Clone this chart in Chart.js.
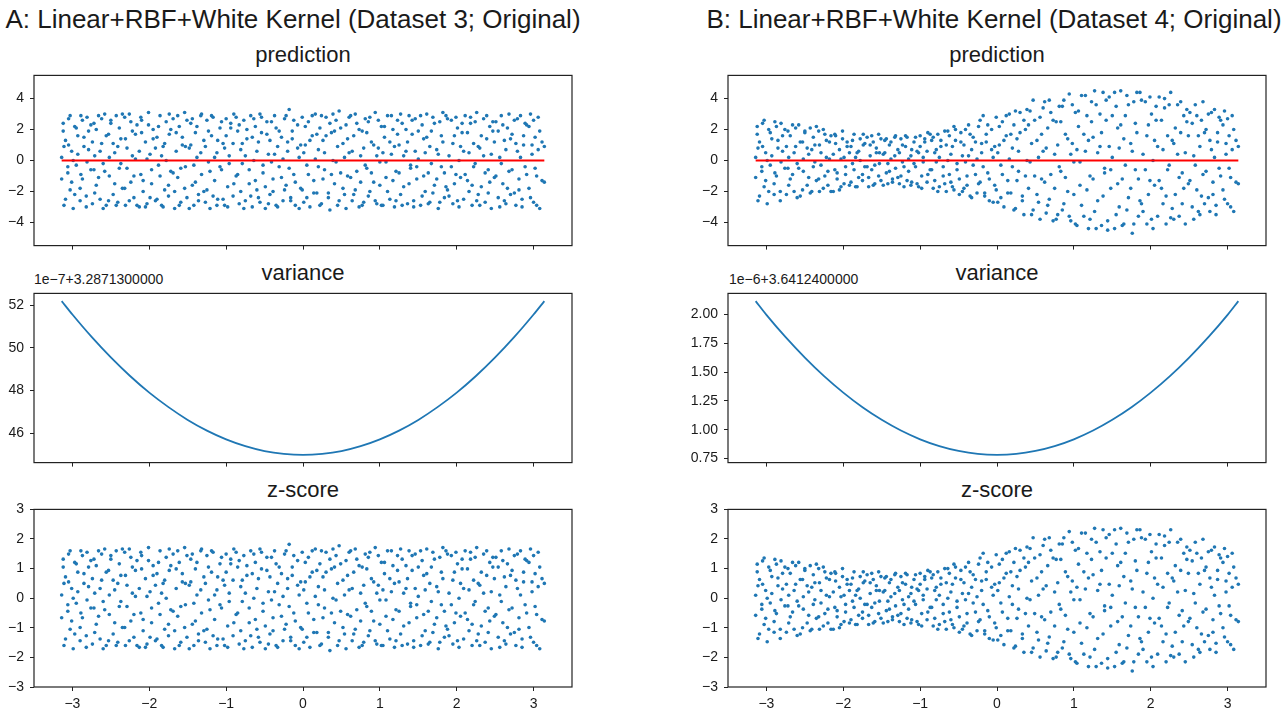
<!DOCTYPE html>
<html><head><meta charset="utf-8">
<script src="https://cdn.jsdelivr.net/npm/chart.js@4.4.1/dist/chart.umd.min.js"></script>
<style>
html,body{margin:0;padding:0;background:#fff;}
#wrap{position:relative;width:1288px;height:713px;overflow:hidden;font-family:"Liberation Sans",Arial,sans-serif;color:#1a1a1a;}
canvas{position:absolute;}
.t{position:absolute;white-space:nowrap;line-height:1;}
</style></head><body><div id="wrap">
<div class="t" style="left:0;width:586px;text-align:center;top:6px;font-size:26px">A: Linear+RBF+White Kernel (Dataset 3; Original)</div>
<div class="t" style="left:697px;width:594px;text-align:center;top:6px;font-size:26px">B: Linear+RBF+White Kernel (Dataset 4; Original)</div>
<div class="t" style="left:34px;width:538px;text-align:center;top:44px;font-size:22px">prediction</div>
<div class="t" style="left:728px;width:538px;text-align:center;top:44px;font-size:22px">prediction</div>
<div class="t" style="left:34px;width:538px;text-align:center;top:262px;font-size:22px">variance</div>
<div class="t" style="left:728px;width:538px;text-align:center;top:262px;font-size:22px">variance</div>
<div class="t" style="left:34px;width:538px;text-align:center;top:479px;font-size:22px">z-score</div>
<div class="t" style="left:728px;width:538px;text-align:center;top:479px;font-size:22px">z-score</div>
<div class="t" style="left:34px;top:272px;font-size:14px">1e−7+3.2871300000</div>
<div class="t" style="left:729px;top:272px;font-size:14px">1e−6+3.6412400000</div>
</div>
<script>
// ---------- data ----------
const xTicks = [-3,-2,-1,0,1,2,3];
const predTicks = [-4,-2,0,2,4];
const zTicks = [-3,-2,-1,0,1,2,3];
const varTicksA = [46,48,50,52];
const varTicksB = [0.75,1.00,1.25,1.50,1.75,2.00];

const xs = [
-3.14,-3.12,-3.11,-3.09,-3.06,-3.05,-3.03,-3.01,-2.99,-2.97,
-2.95,-2.93,-2.90,-2.89,-2.87,-2.85,-2.82,-2.81,-2.79,-2.76,
-2.74,-2.72,-2.71,-2.69,-2.66,-2.64,-2.62,-2.60,-2.58,-2.56,
-2.53,-2.52,-2.50,-2.47,-2.45,-2.43,-2.41,-2.39,-2.37,-2.35,
-2.32,-2.31,-2.29,-2.26,-2.24,-2.22,-2.20,-2.18,-2.16,-2.13,
-2.11,-2.10,-2.08,-2.05,-2.03,-2.01,-1.99,-1.97,-1.95,-1.92,
-1.90,-1.88,-1.86,-1.84,-1.82,-1.80,-1.78,-1.75,-1.74,-1.72,
-1.69,-1.67,-1.65,-1.63,-1.61,-1.59,-1.57,-1.54,-1.53,-1.51,
-1.48,-1.46,-1.44,-1.42,-1.40,-1.38,-1.36,-1.33,-1.32,-1.29,
-1.27,-1.25,-1.23,-1.21,-1.19,-1.17,-1.15,-1.12,-1.11,-1.08,
-1.06,-1.04,-1.02,-1.00,-0.98,-0.96,-0.94,-0.91,-0.90,-0.87,
-0.85,-0.83,-0.81,-0.79,-0.77,-0.75,-0.73,-0.70,-0.68,-0.66,
-0.64,-0.62,-0.60,-0.58,-0.56,-0.54,-0.52,-0.49,-0.47,-0.45,
-0.43,-0.41,-0.39,-0.37,-0.35,-0.33,-0.31,-0.28,-0.26,-0.24,
-0.22,-0.20,-0.18,-0.16,-0.14,-0.12,-0.10,-0.07,-0.05,-0.03,
-0.01,0.01,0.03,0.05,0.07,0.09,0.12,0.14,0.16,0.18,
0.20,0.22,0.24,0.26,0.28,0.30,0.33,0.35,0.37,0.39,
0.41,0.43,0.45,0.47,0.49,0.52,0.54,0.56,0.58,0.60,
0.62,0.64,0.66,0.68,0.70,0.73,0.75,0.77,0.79,0.81,
0.83,0.85,0.87,0.89,0.92,0.94,0.96,0.98,1.00,1.02,
1.04,1.06,1.08,1.10,1.13,1.15,1.17,1.19,1.21,1.23,
1.25,1.27,1.29,1.31,1.34,1.36,1.38,1.40,1.42,1.44,
1.46,1.48,1.50,1.53,1.55,1.57,1.59,1.61,1.63,1.65,
1.67,1.69,1.71,1.74,1.76,1.78,1.80,1.82,1.84,1.86,
1.88,1.90,1.93,1.95,1.97,1.99,2.01,2.03,2.05,2.07,
2.09,2.11,2.14,2.16,2.18,2.20,2.22,2.24,2.26,2.28,
2.30,2.32,2.35,2.37,2.39,2.41,2.43,2.45,2.47,2.49,
2.51,2.54,2.56,2.58,2.60,2.62,2.64,2.66,2.68,2.70,
2.72,2.75,2.77,2.79,2.81,2.83,2.85,2.87,2.89,2.91,
2.94,2.96,2.98,3.00,3.02,3.04,3.06,3.08,3.11,3.14];

// prediction, dataset 3 (two passes of reading the same cloud)
const predA = [
0.2,2.4,-2.9,1.3,-0.8,2.7,-1.9,0.6,-3.1,2.2,
-0.3,1.6,-2.6,2.9,-1.2,0.9,-2.3,2.8,1.9,-0.6,
-2.8,2.4,0.3,-1.6,2.9,-2.5,1.1,-0.2,3.0,-2.9,
1.7,-1.0,2.6,-2.2,0.5,2.9,-2.7,-0.5,1.4,-1.8,
2.8,-2.9,0.8,3.0,-1.4,1.9,-2.4,0.1,2.3,-3.0,
-0.9,2.6,-2.0,1.2,-2.8,3.1,0.4,-1.5,2.0,-2.6,
1.5,-0.3,2.9,-2.9,0.9,-1.9,2.5,-2.3,1.7,-0.7,
2.7,-3.1,0.6,-1.1,2.2,-2.7,1.0,3.1,-0.4,-2.4,
0.8,2.4,-1.6,-2.9,1.8,0.2,-2.2,2.9,-0.9,1.3,
-2.7,2.6,-0.1,-3.1,1.6,2.8,-1.3,0.5,-2.5,2.1,
-0.6,1.1,-2.9,2.7,-1.7,0.3,2.4,-2.3,3.0,-1.0,
1.9,-2.8,0.7,-0.2,2.6,-2.6,1.4,-1.5,2.9,-3.0,
0.0,2.2,-1.9,1.2,-2.7,2.8,-0.8,-3.1,1.7,0.4,
-2.2,2.5,-1.2,2.9,-2.9,0.9,-0.4,1.5,-2.6,2.7,
-1.6,0.6,3.3,-2.4,1.9,-0.9,-2.9,2.3,0.2,-1.8,
2.8,-2.7,1.0,-0.3,2.5,-3.0,1.6,-1.3,3.0,-2.1,
0.7,2.1,-2.8,1.3,-0.6,2.8,-2.4,-3.2,1.8,0.0,
-1.5,2.6,-2.9,3.2,-0.8,1.1,-2.2,2.3,-1.0,0.5,
2.9,-2.6,1.6,-1.9,2.4,-3.0,0.3,1.9,-2.7,2.7,
-0.5,-2.3,2.8,1.2,-1.4,3.1,-2.8,0.8,-0.1,2.2,
-2.9,1.5,-1.1,2.9,-2.5,0.4,2.0,-3.0,-0.7,2.6,
1.0,-2.2,2.4,-1.7,0.6,-2.8,2.9,-0.3,1.7,-2.6,
2.7,-1.2,0.1,-2.9,2.3,1.4,-2.0,3.0,-0.8,-2.7,
1.9,2.8,-1.6,0.7,-3.1,2.5,-0.4,1.2,-2.4,2.9,
-1.9,0.3,2.6,-2.8,1.6,-0.9,2.1,-3.0,0.9,1.8,
-2.5,2.9,-1.3,0.5,2.4,-2.9,1.1,-0.2,3.1,-2.2,
0.8,-1.7,2.7,-2.7,1.4,-0.6,2.2,-3.1,1.9,-1.1,
2.5,-2.4,0.2,2.9,-1.5,1.3,-2.8,2.1,-0.7,-2.2,
1.7,2.6,-2.9,0.6,-1.2,2.9,-2.5,1.0,-0.4,2.3,
-1.8,3.0,0.4,-2.7,1.5,-1.0,2.8,-3.1,1.2,-1.4];
const predA2 = [
-1.2,1.9,0.9,-2.5,-0.4,1.0,2.9,-1.4,0.0,-2.2,
2.1,0.4,-1.8,-0.9,2.6,1.5,-3.0,-0.1,0.7,2.3,
1.2,-0.6,-2.1,2.0,-1.1,0.6,2.7,-3.1,-0.7,1.6,
-2.6,0.2,2.4,1.1,-1.5,-2.9,0.9,2.1,-0.2,3.0,
-1.8,1.4,-0.5,-2.6,2.5,0.3,-1.0,1.7,-2.9,0.6,
2.8,1.8,-1.3,-3.0,0.1,2.3,-2.4,-0.6,1.4,0.8,
-2.5,2.2,-1.0,0.3,-3.0,1.1,0.0,-1.6,3.0,2.0,
-0.8,-2.0,1.8,2.9,-2.9,-0.5,1.5,-1.8,0.9,2.6,
-3.1,1.0,2.7,-0.3,-1.4,2.2,-2.6,0.5,3.0,-2.0,
0.9,-1.9,1.9,-0.7,2.9,-2.3,0.2,-2.9,1.3,-0.4,
2.5,-2.5,0.8,1.6,-3.0,-0.2,2.1,1.1,-1.5,2.8,
-0.9,2.3,-2.0,1.1,-3.1,0.3,2.0,-0.6,-2.3,1.5,
2.7,-1.3,0.6,-2.4,3.0,1.8,-0.3,-1.7,2.5,-2.8,
1.3,-0.1,-2.0,0.4,2.1,-3.0,1.9,-1.1,0.1,-1.9,
2.9,1.2,-0.5,-2.6,1.4,2.6,-1.4,0.8,-3.1,1.0,
-1.9,0.5,2.2,-2.4,-0.9,1.3,2.9,-2.1,0.1,1.7,
-0.4,-2.9,2.9,-1.2,0.5,1.6,-2.1,2.4,-0.9,3.0,
1.9,-0.1,0.9,-2.6,2.1,-1.8,0.2,-3.1,1.4,2.8,
-1.1,0.6,-2.2,3.0,-0.7,2.0,-1.4,-2.9,0.8,-0.3,
1.8,2.5,-2.0,-0.8,1.0,-2.6,0.3,2.6,-1.6,-2.9,
0.5,2.2,-0.1,-2.0,1.2,2.9,-1.3,0.9,-2.6,1.7,
-0.8,3.0,-2.9,0.3,2.0,1.2,-1.5,-0.5,2.6,-3.0,
0.6,-0.4,1.9,2.9,-2.3,-1.0,0.5,1.5,-2.8,0.9,
-0.2,-2.1,2.4,-1.2,0.4,-2.7,1.6,3.1,-0.8,-1.7,
2.7,-2.3,-0.4,1.1,-1.5,2.8,-2.6,0.0,-1.1,2.4,
0.6,-0.9,1.8,-2.0,2.8,-1.6,-0.4,2.5,-2.6,0.9,
-2.9,1.6,0.3,-0.8,2.9,-2.1,-1.4,0.4,2.5,1.2,
-1.0,1.9,-3.0,-0.2,2.3,-2.6,0.7,-1.8,3.0,1.4,
-0.6,-2.1,1.1,2.7,-1.9,0.2,-3.0,1.6,2.4,-0.9,
2.2,-2.4,1.0,2.6,-0.5,-2.9,0.7,1.9,-1.3,0.9];

// z-score, dataset 3
const zA = [
0.11,1.32,-1.60,0.72,-0.44,1.49,-1.05,0.33,-1.71,1.21,
-0.17,0.88,-1.44,1.60,-0.66,0.50,-1.27,1.55,1.05,-0.33,
-1.55,1.32,0.17,-0.88,1.60,-1.38,0.61,-0.11,1.66,-1.60,
0.94,-0.55,1.44,-1.21,0.28,1.60,-1.49,-0.28,0.77,-0.99,
1.55,-1.60,0.44,1.66,-0.77,1.05,-1.32,0.06,1.27,-1.66,
-0.50,1.44,-1.10,0.66,-1.55,1.71,0.22,-0.83,1.10,-1.44,
0.83,-0.17,1.60,-1.60,0.50,-1.05,1.38,-1.27,0.94,-0.39,
1.49,-1.71,0.33,-0.61,1.21,-1.49,0.55,1.71,-0.22,-1.32,
0.44,1.32,-0.88,-1.60,0.99,0.11,-1.21,1.60,-0.50,0.72,
-1.49,1.44,-0.06,-1.71,0.88,1.55,-0.72,0.28,-1.38,1.16,
-0.33,0.61,-1.60,1.49,-0.94,0.17,1.32,-1.27,1.66,-0.55,
1.05,-1.55,0.39,-0.11,1.44,-1.44,0.77,-0.83,1.60,-1.66,
0.00,1.21,-1.05,0.66,-1.49,1.55,-0.44,-1.71,0.94,0.22,
-1.21,1.38,-0.66,1.60,-1.60,0.50,-0.22,0.83,-1.44,1.49,
-0.88,0.33,1.82,-1.32,1.05,-0.50,-1.60,1.27,0.11,-0.99,
1.55,-1.49,0.55,-0.17,1.38,-1.66,0.88,-0.72,1.66,-1.16,
0.39,1.16,-1.55,0.72,-0.33,1.55,-1.32,-1.77,0.99,0.00,
-0.83,1.44,-1.60,1.77,-0.44,0.61,-1.21,1.27,-0.55,0.28,
1.60,-1.44,0.88,-1.05,1.32,-1.66,0.17,1.05,-1.49,1.49,
-0.28,-1.27,1.55,0.66,-0.77,1.71,-1.55,0.44,-0.06,1.21,
-1.60,0.83,-0.61,1.60,-1.38,0.22,1.10,-1.66,-0.39,1.44,
0.55,-1.21,1.32,-0.94,0.33,-1.55,1.60,-0.17,0.94,-1.44,
1.49,-0.66,0.06,-1.60,1.27,0.77,-1.10,1.66,-0.44,-1.49,
1.05,1.55,-0.88,0.39,-1.71,1.38,-0.22,0.66,-1.32,1.60,
-1.05,0.17,1.44,-1.55,0.88,-0.50,1.16,-1.66,0.50,0.99,
-1.38,1.60,-0.72,0.28,1.32,-1.60,0.61,-0.11,1.71,-1.21,
0.44,-0.94,1.49,-1.49,0.77,-0.33,1.21,-1.71,1.05,-0.61,
1.38,-1.32,0.11,1.60,-0.83,0.72,-1.55,1.16,-0.39,-1.21,
0.94,1.44,-1.60,0.33,-0.66,1.60,-1.38,0.55,-0.22,1.27,
-0.99,1.66,0.22,-1.49,0.83,-0.55,1.55,-1.71,0.66,-0.77];
const zA2 = [
-0.66,1.05,0.50,-1.38,-0.22,0.55,1.60,-0.77,0.00,-1.21,
1.16,0.22,-0.99,-0.50,1.44,0.83,-1.66,-0.06,0.39,1.27,
0.66,-0.33,-1.16,1.10,-0.61,0.33,1.49,-1.71,-0.39,0.88,
-1.44,0.11,1.32,0.61,-0.83,-1.60,0.50,1.16,-0.11,1.66,
-0.99,0.77,-0.28,-1.44,1.38,0.17,-0.55,0.94,-1.60,0.33,
1.55,0.99,-0.72,-1.66,0.06,1.27,-1.32,-0.33,0.77,0.44,
-1.38,1.21,-0.55,0.17,-1.66,0.61,0.00,-0.88,1.66,1.10,
-0.44,-1.10,0.99,1.60,-1.60,-0.28,0.83,-0.99,0.50,1.44,
-1.71,0.55,1.49,-0.17,-0.77,1.21,-1.44,0.28,1.66,-1.10,
0.50,-1.05,1.05,-0.39,1.60,-1.27,0.11,-1.60,0.72,-0.22,
1.38,-1.38,0.44,0.88,-1.66,-0.11,1.16,0.61,-0.83,1.55,
-0.50,1.27,-1.10,0.61,-1.71,0.17,1.10,-0.33,-1.27,0.83,
1.49,-0.72,0.33,-1.32,1.66,0.99,-0.17,-0.94,1.38,-1.55,
0.72,-0.06,-1.10,0.22,1.16,-1.66,1.05,-0.61,0.06,-1.05,
1.60,0.66,-0.28,-1.44,0.77,1.44,-0.77,0.44,-1.71,0.55,
-1.05,0.28,1.21,-1.32,-0.50,0.72,1.60,-1.16,0.06,0.94,
-0.22,-1.60,1.60,-0.66,0.28,0.88,-1.16,1.32,-0.50,1.66,
1.05,-0.06,0.50,-1.44,1.16,-0.99,0.11,-1.71,0.77,1.55,
-0.61,0.33,-1.21,1.66,-0.39,1.10,-0.77,-1.60,0.44,-0.17,
0.99,1.38,-1.10,-0.44,0.55,-1.44,0.17,1.44,-0.88,-1.60,
0.28,1.21,-0.06,-1.10,0.66,1.60,-0.72,0.50,-1.44,0.94,
-0.44,1.66,-1.60,0.17,1.10,0.66,-0.83,-0.28,1.44,-1.66,
0.33,-0.22,1.05,1.60,-1.27,-0.55,0.28,0.83,-1.55,0.50,
-0.11,-1.16,1.32,-0.66,0.22,-1.49,0.88,1.71,-0.44,-0.94,
1.49,-1.27,-0.22,0.61,-0.83,1.55,-1.44,0.00,-0.61,1.32,
0.33,-0.50,0.99,-1.10,1.55,-0.88,-0.22,1.38,-1.44,0.50,
-1.60,0.88,0.17,-0.44,1.60,-1.16,-0.77,0.22,1.38,0.66,
-0.55,1.05,-1.66,-0.11,1.27,-1.44,0.39,-0.99,1.66,0.77,
-0.33,-1.16,0.61,1.49,-1.05,0.11,-1.66,0.88,1.32,-0.50,
1.21,-1.32,0.55,1.44,-0.28,-1.60,0.39,1.05,-0.72,0.50];

// prediction, dataset 4
const predB = [
0.2,2.2,-2.6,1.2,-0.7,2.4,-1.7,0.5,-2.8,2.0,
-0.3,1.4,-2.2,2.5,-1.0,0.8,-2.0,2.4,1.6,-0.5,
-2.2,1.9,0.2,-1.2,2.3,-2.0,0.9,-0.2,2.3,-2.3,
1.2,-0.7,1.9,-1.6,0.4,2.1,-2.0,-0.4,1.0,-1.3,
1.9,-2.0,0.5,2.0,-1.0,1.3,-1.6,0.1,1.6,-2.0,
-0.6,1.6,-1.2,0.7,-1.7,1.9,0.2,-0.9,1.2,-1.6,
0.9,-0.2,1.7,-1.7,0.5,-1.1,1.4,-1.3,1.0,-0.4,
1.5,-1.7,0.3,-0.6,1.2,-1.5,0.5,1.7,-0.2,-1.3,
0.4,1.3,-0.8,-1.5,1.0,0.1,-1.2,1.5,-0.5,0.7,
-1.5,1.4,-0.1,-1.7,0.9,1.5,-0.7,0.3,-1.4,1.2,
-0.4,0.6,-1.7,1.6,-1.0,0.2,1.4,-1.4,1.8,-0.6,
1.3,-1.8,0.5,-0.1,1.7,-1.7,0.9,-1.0,1.9,-2.0,
0.0,1.6,-1.4,0.9,-1.9,2.0,-0.6,-2.2,1.2,0.3,
-1.8,2.0,-1.0,2.3,-2.3,0.7,-0.3,1.2,-2.1,2.2,
-1.4,0.5,2.9,-2.1,1.7,-0.8,-2.6,2.0,0.2,-1.6,
2.8,-2.7,1.0,-0.3,2.5,-3.0,1.6,-1.3,3.0,-2.1,
0.8,2.3,-3.1,1.4,-0.7,3.1,-2.6,-3.5,2.0,0.0,
-1.8,3.2,-3.5,3.9,-1.0,1.3,-2.7,2.8,-1.2,0.6,
3.8,-3.4,2.1,-2.5,3.1,-3.9,0.4,2.5,-3.5,3.5,
-0.7,-3.2,3.9,1.7,-2.0,4.3,-3.9,1.1,-0.1,3.1,
-4.2,2.2,-1.6,4.2,-3.6,0.6,2.9,-4.4,-1.0,3.8,
1.5,-3.3,3.6,-2.6,0.9,-4.2,4.4,-0.5,2.6,-3.9,
4.1,-1.8,0.2,-4.4,3.5,2.1,-3.0,4.5,-1.2,-4.1,
2.9,4.2,-2.4,1.1,-4.7,3.8,-0.6,1.8,-3.6,4.4,
-2.8,0.4,3.8,-4.1,2.3,-1.3,3.0,-4.4,1.3,2.6,
-3.6,4.1,-1.8,0.7,3.4,-4.1,1.6,-0.3,4.4,-3.1,
1.1,-2.2,3.6,-3.6,1.8,-0.8,2.9,-4.1,2.5,-1.5,
3.1,-3.0,0.3,3.6,-1.9,1.6,-3.5,2.6,-0.9,-2.8,
2.0,3.0,-3.3,0.7,-1.4,3.3,-2.9,1.2,-0.5,2.6,
-1.9,3.2,0.4,-2.8,1.6,-1.1,2.9,-3.3,1.3,-1.5];
const predB2 = [
-1.1,1.7,0.8,-2.3,-0.4,0.9,2.6,-1.3,0.0,-2.0,
1.8,0.3,-1.5,-0.8,2.2,1.3,-2.6,-0.1,0.6,2.0,
0.9,-0.5,-1.6,1.6,-0.9,0.5,2.1,-2.4,-0.5,1.2,
-1.9,0.1,1.8,0.8,-1.1,-2.1,0.7,1.5,-0.1,2.2,
-1.2,1.0,-0.3,-1.8,1.7,0.2,-0.7,1.2,-2.0,0.4,
1.7,1.1,-0.8,-1.9,0.1,1.4,-1.5,-0.4,0.9,0.5,
-1.4,1.3,-0.6,0.2,-1.7,0.6,0.0,-0.9,1.7,1.1,
-0.4,-1.1,1.0,1.6,-1.6,-0.3,0.8,-1.0,0.5,1.4,
-1.6,0.5,1.4,-0.2,-0.7,1.2,-1.4,0.3,1.6,-1.1,
0.5,-1.0,1.0,-0.4,1.6,-1.3,0.1,-1.6,0.7,-0.2,
1.5,-1.5,0.5,0.9,-1.8,-0.1,1.2,0.6,-0.9,1.7,
-0.6,1.5,-1.3,0.7,-2.0,0.2,1.3,-0.4,-1.5,1.0,
1.9,-0.9,0.4,-1.7,2.2,1.3,-0.2,-1.2,1.8,-2.0,
1.0,-0.1,-1.6,0.3,1.7,-2.4,1.5,-0.9,0.1,-1.5,
2.6,1.1,-0.4,-2.3,1.2,2.3,-1.2,0.7,-2.7,0.9,
-1.9,0.5,2.2,-2.4,-0.9,1.3,2.9,-2.1,0.1,1.7,
-0.4,-3.2,3.2,-1.3,0.6,1.8,-2.3,2.6,-1.0,3.3,
2.3,-0.1,1.1,-3.2,2.6,-2.2,0.2,-3.8,1.7,3.4,
-1.4,0.8,-2.9,3.9,-0.9,2.6,-1.8,-3.8,1.0,-0.4,
2.5,3.5,-2.8,-1.1,1.4,-3.6,0.4,3.6,-2.2,-4.1,
0.7,3.2,-0.1,-2.9,1.7,4.2,-1.9,1.3,-3.8,2.5,
-1.2,4.5,-4.4,0.5,3.0,1.8,-2.3,-0.8,3.9,-4.5,
0.9,-0.6,2.9,4.4,-3.5,-1.5,0.8,2.3,-4.2,1.4,
-0.3,-3.2,3.6,-1.8,0.6,-4.1,2.4,4.4,-1.2,-2.6,
3.9,-3.3,-0.6,1.6,-2.2,4.1,-3.8,0.0,-1.6,3.5,
0.9,-1.3,2.6,-2.8,4.0,-2.3,-0.6,3.6,-3.7,1.3,
-3.8,2.1,0.4,-1.1,3.8,-2.8,-1.8,0.5,3.3,1.6,
-1.3,2.4,-3.8,-0.3,2.9,-3.3,0.9,-2.3,3.8,1.8,
-0.7,-2.4,1.3,3.1,-2.2,0.2,-3.5,1.8,2.8,-1.0,
2.3,-2.5,1.1,2.7,-0.5,-3.0,0.7,2.0,-1.4,0.9];

// z-score, dataset 4
const zB = [
0.10,1.15,-1.36,0.63,-0.37,1.26,-0.89,0.26,-1.47,1.05,
-0.16,0.73,-1.15,1.31,-0.52,0.42,-1.05,1.26,0.84,-0.26,
-1.15,1.00,0.10,-0.63,1.21,-1.05,0.47,-0.10,1.21,-1.21,
0.63,-0.37,1.00,-0.84,0.21,1.10,-1.05,-0.21,0.52,-0.68,
1.00,-1.05,0.26,1.05,-0.52,0.68,-0.84,0.05,0.84,-1.05,
-0.31,0.84,-0.63,0.37,-0.89,1.00,0.10,-0.47,0.63,-0.84,
0.47,-0.10,0.89,-0.89,0.26,-0.58,0.73,-0.68,0.52,-0.21,
0.79,-0.89,0.16,-0.31,0.63,-0.79,0.26,0.89,-0.10,-0.68,
0.21,0.68,-0.42,-0.79,0.52,0.05,-0.63,0.79,-0.26,0.37,
-0.79,0.73,-0.05,-0.89,0.47,0.79,-0.37,0.16,-0.73,0.63,
-0.21,0.31,-0.89,0.84,-0.52,0.10,0.73,-0.73,0.94,-0.31,
0.68,-0.94,0.26,-0.05,0.89,-0.89,0.47,-0.52,1.00,-1.05,
0.00,0.84,-0.73,0.47,-1.00,1.05,-0.31,-1.15,0.63,0.16,
-0.94,1.05,-0.52,1.21,-1.21,0.37,-0.16,0.63,-1.10,1.15,
-0.73,0.26,1.52,-1.10,0.89,-0.42,-1.36,1.05,0.10,-0.84,
1.47,-1.41,0.52,-0.16,1.31,-1.57,0.84,-0.68,1.57,-1.10,
0.42,1.21,-1.62,0.73,-0.37,1.62,-1.36,-1.83,1.05,0.00,
-0.94,1.68,-1.83,2.04,-0.52,0.68,-1.41,1.47,-0.63,0.31,
1.99,-1.78,1.10,-1.31,1.62,-2.04,0.21,1.31,-1.83,1.83,
-0.37,-1.68,2.04,0.89,-1.05,2.25,-2.04,0.58,-0.05,1.62,
-2.20,1.15,-0.84,2.20,-1.89,0.31,1.52,-2.31,-0.52,1.99,
0.79,-1.73,1.89,-1.36,0.47,-2.20,2.31,-0.26,1.36,-2.04,
2.15,-0.94,0.10,-2.31,1.83,1.10,-1.57,2.36,-0.63,-2.15,
1.52,2.20,-1.26,0.58,-2.46,1.99,-0.31,0.94,-1.89,2.31,
-1.47,0.21,1.99,-2.15,1.21,-0.68,1.57,-2.31,0.68,1.36,
-1.89,2.15,-0.94,0.37,1.78,-2.15,0.84,-0.16,2.31,-1.62,
0.58,-1.15,1.89,-1.89,0.94,-0.42,1.52,-2.15,1.31,-0.79,
1.62,-1.57,0.16,1.89,-1.00,0.84,-1.83,1.36,-0.47,-1.47,
1.05,1.57,-1.73,0.37,-0.73,1.73,-1.52,0.63,-0.26,1.36,
-1.00,1.68,0.21,-1.47,0.84,-0.58,1.52,-1.73,0.68,-0.79];
const zB2 = [
-0.58,0.89,0.42,-1.21,-0.21,0.47,1.36,-0.68,0.00,-1.05,
0.94,0.16,-0.79,-0.42,1.15,0.68,-1.36,-0.05,0.31,1.05,
0.47,-0.26,-0.84,0.84,-0.47,0.26,1.10,-1.26,-0.26,0.63,
-1.00,0.05,0.94,0.42,-0.58,-1.10,0.37,0.79,-0.05,1.15,
-0.63,0.52,-0.16,-0.94,0.89,0.10,-0.37,0.63,-1.05,0.21,
0.89,0.58,-0.42,-1.00,0.05,0.73,-0.79,-0.21,0.47,0.26,
-0.73,0.68,-0.31,0.10,-0.89,0.31,0.00,-0.47,0.89,0.58,
-0.21,-0.58,0.52,0.84,-0.84,-0.16,0.42,-0.52,0.26,0.73,
-0.84,0.26,0.73,-0.10,-0.37,0.63,-0.73,0.16,0.84,-0.58,
0.26,-0.52,0.52,-0.21,0.84,-0.68,0.05,-0.84,0.37,-0.10,
0.79,-0.79,0.26,0.47,-0.94,-0.05,0.63,0.31,-0.47,0.89,
-0.31,0.79,-0.68,0.37,-1.05,0.10,0.68,-0.21,-0.79,0.52,
1.00,-0.47,0.21,-0.89,1.15,0.68,-0.10,-0.63,0.94,-1.05,
0.52,-0.05,-0.84,0.16,0.89,-1.26,0.79,-0.47,0.05,-0.79,
1.36,0.58,-0.21,-1.21,0.63,1.21,-0.63,0.37,-1.41,0.47,
-1.00,0.26,1.15,-1.26,-0.47,0.68,1.52,-1.10,0.05,0.89,
-0.21,-1.68,1.68,-0.68,0.31,0.94,-1.21,1.36,-0.52,1.73,
1.21,-0.05,0.58,-1.68,1.36,-1.15,0.10,-1.99,0.89,1.78,
-0.73,0.42,-1.52,2.04,-0.47,1.36,-0.94,-1.99,0.52,-0.21,
1.31,1.83,-1.47,-0.58,0.73,-1.89,0.21,1.89,-1.15,-2.15,
0.37,1.68,-0.05,-1.52,0.89,2.20,-1.00,0.68,-1.99,1.31,
-0.63,2.36,-2.31,0.26,1.57,0.94,-1.21,-0.42,2.04,-2.36,
0.47,-0.31,1.52,2.31,-1.83,-0.79,0.42,1.21,-2.20,0.73,
-0.16,-1.68,1.89,-0.94,0.31,-2.15,1.26,2.31,-0.63,-1.36,
2.04,-1.73,-0.31,0.84,-1.15,2.15,-1.99,0.00,-0.84,1.83,
0.47,-0.68,1.36,-1.47,2.10,-1.21,-0.31,1.89,-1.94,0.68,
-1.99,1.10,0.21,-0.58,1.99,-1.47,-0.94,0.26,1.73,0.84,
-0.68,1.26,-1.99,-0.16,1.52,-1.73,0.47,-1.21,1.99,0.94,
-0.37,-1.26,0.68,1.62,-1.15,0.10,-1.83,0.94,1.47,-0.52,
1.21,-1.31,0.58,1.41,-0.26,-1.57,0.37,1.05,-0.73,0.47];

const zeroX = [-3.14, 3.14];
const zeroY = [0, 0];

const varX = [-3.14,-3,-2.75,-2.5,-2.25,-2,-1.75,-1.5,-1.25,-1,-0.75,-0.5,-0.25,0,0.25,0.5,0.75,1,1.25,1.5,1.75,2,2.25,2.5,2.75,3,3.14];
const varA = [52.19,51.56,50.51,49.55,48.68,47.9,47.22,46.62,46.12,45.71,45.39,45.16,45.03,44.98,45.03,45.16,45.39,45.71,46.12,46.62,47.22,47.9,48.68,49.55,50.51,51.56,52.19];
const varB = [2.116,1.997,1.803,1.626,1.465,1.322,1.195,1.086,0.993,0.917,0.858,0.816,0.790,0.782,0.790,0.816,0.858,0.917,0.993,1.086,1.195,1.322,1.465,1.626,1.803,1.997,2.116];

// ---------- rendering ----------
const BLUE = '#1f77b4';
const FONT = {family: '"Liberation Sans", Arial, sans-serif', size: 14};
const TXT = '#1a1a1a';
const PADT = 10, PADR = 12;
const fmtInt = v => (v < 0 ? '\u2212' + Math.abs(v) : String(v));

const framePlugin = {
  id: 'frame',
  afterDraw(chart) {
    const a = chart.chartArea, c = chart.ctx;
    c.save(); c.strokeStyle = '#222'; c.lineWidth = 1.2;
    c.strokeRect(a.left, a.top, a.right - a.left, a.bottom - a.top);
    c.restore();
  }
};

function pts(xv, yv) { return xv.map((x, i) => ({x: x, y: yv[i]})); }

function panel(o) {
  const cv = document.createElement('canvas');
  const W = o.yW + o.boxW + PADR, H = PADT + o.boxH + o.xH;
  cv.width = W; cv.height = H;
  cv.style.left = (o.boxL - o.yW) + 'px';
  cv.style.top = (o.boxT - PADT) + 'px';
  cv.style.width = W + 'px'; cv.style.height = H + 'px';
  document.getElementById('wrap').appendChild(cv);
  new Chart(cv, {
    type: 'scatter',
    data: {datasets: o.datasets},
    options: {
      responsive: false, animation: false, devicePixelRatio: 1,
      layout: {padding: {top: PADT, right: PADR, left: 0, bottom: 0}},
      plugins: {legend: {display: false}, tooltip: {enabled: false}, title: {display: false}},
      scales: {
        x: {
          type: 'linear', min: -3.5, max: 3.5,
          afterBuildTicks: s => { s.ticks = xTicks.map(v => ({value: v})); },
          afterFit: s => { s.height = o.xH; },
          grid: {display: true, drawOnChartArea: false, drawTicks: true, tickLength: 4, color: '#222', lineWidth: 1},
          border: {display: false},
          ticks: {display: o.xLabels, font: FONT, color: TXT, padding: 5, maxRotation: 0, autoSkip: false, callback: v => fmtInt(v)}
        },
        y: {
          type: 'linear', min: o.yMin, max: o.yMax,
          afterBuildTicks: s => { s.ticks = o.yTicks.map(v => ({value: v})); },
          afterFit: s => { s.width = o.yW; },
          grid: {display: true, drawOnChartArea: false, drawTicks: true, tickLength: 4, color: '#222', lineWidth: 1},
          border: {display: false},
          ticks: {font: FONT, color: TXT, padding: 6, autoSkip: false, callback: o.yFmt || (v => fmtInt(v))}
        }
      }
    },
    plugins: [framePlugin]
  });
}

function scatterSet(yv) {
  return {data: pts(xs, yv), backgroundColor: BLUE, borderWidth: 0, pointRadius: 1.8, order: 2};
}
function zeroSet() {
  return {data: pts(zeroX, zeroY), showLine: true, borderColor: '#ff0000', borderWidth: 2, pointRadius: 0, order: 0};
}
function varSet(yv) {
  return {data: pts(varX, yv), showLine: true, borderColor: BLUE, borderWidth: 1.8, pointRadius: 0, cubicInterpolationMode: 'monotone'};
}

const boxW = 538;
// prediction
panel({boxL: 34, yW: 34, boxW, boxT: 71, boxH: 181, xH: 8, xLabels: false, yMin: -5.5, yMax: 5.5, yTicks: predTicks,
  datasets: [zeroSet(), scatterSet(predA), scatterSet(predA2)]});
panel({boxL: 728, yW: 48, boxW, boxT: 71, boxH: 181, xH: 8, xLabels: false, yMin: -5.5, yMax: 5.5, yTicks: predTicks,
  datasets: [zeroSet(), scatterSet(predB), scatterSet(predB2)]});
// variance
panel({boxL: 34, yW: 34, boxW, boxT: 289, boxH: 180, xH: 8, xLabels: false, yMin: 44.62, yMax: 52.55, yTicks: varTicksA,
  datasets: [varSet(varA)]});
panel({boxL: 728, yW: 48, boxW, boxT: 289, boxH: 180, xH: 8, xLabels: false, yMin: 0.715, yMax: 2.183, yTicks: varTicksB,
  yFmt: v => v.toFixed(2), datasets: [varSet(varB)]});
// z-score
panel({boxL: 34, yW: 34, boxW, boxT: 505, boxH: 182, xH: 26, xLabels: true, yMin: -3, yMax: 3, yTicks: zTicks,
  datasets: [scatterSet(zA), scatterSet(zA2)]});
panel({boxL: 728, yW: 48, boxW, boxT: 505, boxH: 182, xH: 26, xLabels: true, yMin: -3, yMax: 3, yTicks: zTicks,
  datasets: [scatterSet(zB), scatterSet(zB2)]});
</script>
</body></html>
